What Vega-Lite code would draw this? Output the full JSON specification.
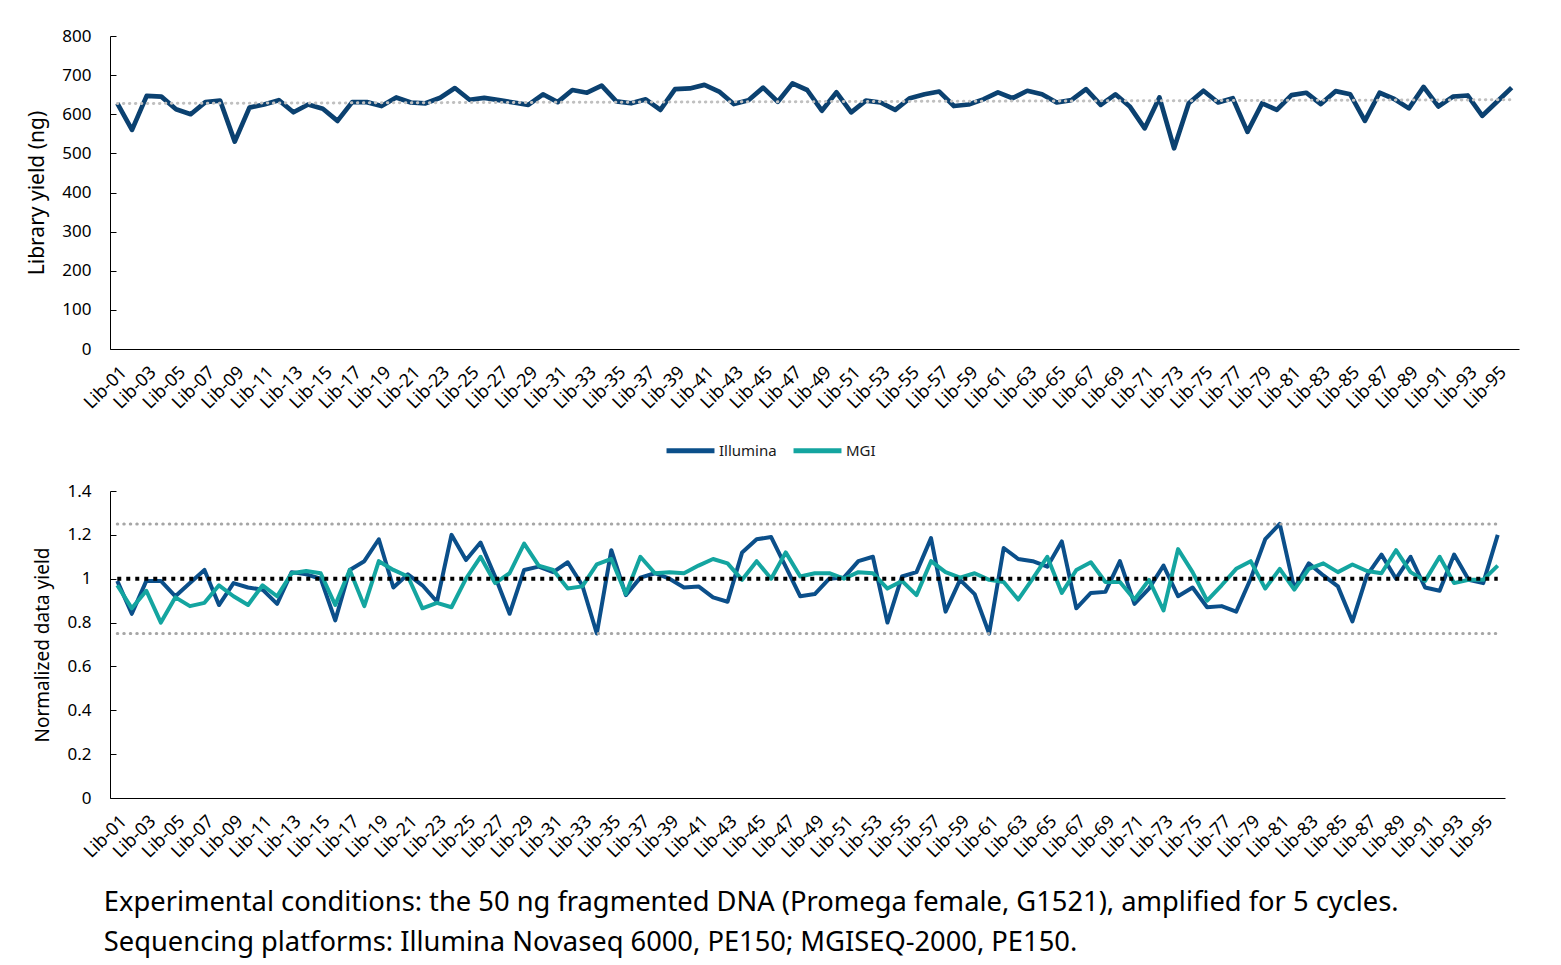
{
  "$schema": "https://vega.github.io/schema/vega-lite/v6.json",
  "padding": {"left": 26, "top": 27, "right": 20, "bottom": 5},
  "config": {
    "view": {"stroke": null},
    "font": "Noto Sans",
    "axis": {"domainColor": "#000", "tickColor": "#000", "labelColor": "#000", "titleColor": "#000", "grid": false, "titleFontWeight": "normal"}
  },
  "title": {
    "text": ["Experimental conditions: the 50 ng fragmented DNA (Promega female, G1521), amplified for 5 cycles.", "Sequencing platforms: Illumina Novaseq 6000, PE150; MGISEQ-2000, PE150."],
    "orient": "bottom", "anchor": "start", "fontSize": 27.3, "fontWeight": "normal", "color": "#000", "lineHeight": 40, "offset": 28, "dx": 77
  },
  "spacing": 69,
  "datasets": {
    "top": [
      {"lib":"Lib-01","yield":628},{"lib":"Lib-02","yield":560},{"lib":"Lib-03","yield":647},{"lib":"Lib-04","yield":645},
      {"lib":"Lib-05","yield":613},{"lib":"Lib-06","yield":600},{"lib":"Lib-07","yield":631},{"lib":"Lib-08","yield":635},
      {"lib":"Lib-09","yield":530},{"lib":"Lib-10","yield":617},{"lib":"Lib-11","yield":625},{"lib":"Lib-12","yield":636},
      {"lib":"Lib-13","yield":605},{"lib":"Lib-14","yield":625},{"lib":"Lib-15","yield":614},{"lib":"Lib-16","yield":583},
      {"lib":"Lib-17","yield":631},{"lib":"Lib-18","yield":631},{"lib":"Lib-19","yield":621},{"lib":"Lib-20","yield":643},
      {"lib":"Lib-21","yield":630},{"lib":"Lib-22","yield":628},{"lib":"Lib-23","yield":642},{"lib":"Lib-24","yield":667},
      {"lib":"Lib-25","yield":637},{"lib":"Lib-26","yield":642},{"lib":"Lib-27","yield":636},{"lib":"Lib-28","yield":630},
      {"lib":"Lib-29","yield":624},{"lib":"Lib-30","yield":651},{"lib":"Lib-31","yield":631},{"lib":"Lib-32","yield":662},
      {"lib":"Lib-33","yield":655},{"lib":"Lib-34","yield":673},{"lib":"Lib-35","yield":633},{"lib":"Lib-36","yield":628},
      {"lib":"Lib-37","yield":638},{"lib":"Lib-38","yield":611},{"lib":"Lib-39","yield":664},{"lib":"Lib-40","yield":666},
      {"lib":"Lib-41","yield":675},{"lib":"Lib-42","yield":658},{"lib":"Lib-43","yield":626},{"lib":"Lib-44","yield":636},
      {"lib":"Lib-45","yield":668},{"lib":"Lib-46","yield":632},{"lib":"Lib-47","yield":679},{"lib":"Lib-48","yield":662},
      {"lib":"Lib-49","yield":609},{"lib":"Lib-50","yield":656},{"lib":"Lib-51","yield":605},{"lib":"Lib-52","yield":635},
      {"lib":"Lib-53","yield":630},{"lib":"Lib-54","yield":611},{"lib":"Lib-55","yield":641},{"lib":"Lib-56","yield":651},
      {"lib":"Lib-57","yield":658},{"lib":"Lib-58","yield":621},{"lib":"Lib-59","yield":625},{"lib":"Lib-60","yield":638},
      {"lib":"Lib-61","yield":656},{"lib":"Lib-62","yield":641},{"lib":"Lib-63","yield":660},{"lib":"Lib-64","yield":651},
      {"lib":"Lib-65","yield":630},{"lib":"Lib-66","yield":636},{"lib":"Lib-67","yield":664},{"lib":"Lib-68","yield":624},
      {"lib":"Lib-69","yield":651},{"lib":"Lib-70","yield":619},{"lib":"Lib-71","yield":564},{"lib":"Lib-72","yield":643},
      {"lib":"Lib-73","yield":513},{"lib":"Lib-74","yield":628},{"lib":"Lib-75","yield":660},{"lib":"Lib-76","yield":630},
      {"lib":"Lib-77","yield":641},{"lib":"Lib-78","yield":555},{"lib":"Lib-79","yield":628},{"lib":"Lib-80","yield":611},
      {"lib":"Lib-81","yield":649},{"lib":"Lib-82","yield":655},{"lib":"Lib-83","yield":626},{"lib":"Lib-84","yield":659},
      {"lib":"Lib-85","yield":651},{"lib":"Lib-86","yield":583},{"lib":"Lib-87","yield":655},{"lib":"Lib-88","yield":639},
      {"lib":"Lib-89","yield":615},{"lib":"Lib-90","yield":670},{"lib":"Lib-91","yield":620},{"lib":"Lib-92","yield":645},
      {"lib":"Lib-93","yield":648},{"lib":"Lib-94","yield":596},{"lib":"Lib-95","yield":632},{"lib":"Lib-96","yield":668}
    ],
    "trend": [{"lib":"Lib-01","lib2":"Lib-96","yield":627.5,"yield2":637}],
    "bottom": [
      {"lib":"Lib-01","Illumina":0.99,"MGI":0.97},{"lib":"Lib-02","Illumina":0.84,"MGI":0.865},{"lib":"Lib-03","Illumina":0.99,"MGI":0.945},
      {"lib":"Lib-04","Illumina":0.99,"MGI":0.80},{"lib":"Lib-05","Illumina":0.92,"MGI":0.915},{"lib":"Lib-06","Illumina":0.98,"MGI":0.875},
      {"lib":"Lib-07","Illumina":1.04,"MGI":0.89},{"lib":"Lib-08","Illumina":0.88,"MGI":0.97},{"lib":"Lib-09","Illumina":0.98,"MGI":0.92},
      {"lib":"Lib-10","Illumina":0.96,"MGI":0.88},{"lib":"Lib-11","Illumina":0.95,"MGI":0.97},{"lib":"Lib-12","Illumina":0.885,"MGI":0.92},
      {"lib":"Lib-13","Illumina":1.03,"MGI":1.025},{"lib":"Lib-14","Illumina":1.02,"MGI":1.035},{"lib":"Lib-15","Illumina":1.0,"MGI":1.025},
      {"lib":"Lib-16","Illumina":0.81,"MGI":0.88},{"lib":"Lib-17","Illumina":1.04,"MGI":1.04},{"lib":"Lib-18","Illumina":1.08,"MGI":0.875},
      {"lib":"Lib-19","Illumina":1.18,"MGI":1.08},{"lib":"Lib-20","Illumina":0.96,"MGI":1.04},{"lib":"Lib-21","Illumina":1.02,"MGI":1.01},
      {"lib":"Lib-22","Illumina":0.97,"MGI":0.865},{"lib":"Lib-23","Illumina":0.895,"MGI":0.89},{"lib":"Lib-24","Illumina":1.2,"MGI":0.87},
      {"lib":"Lib-25","Illumina":1.085,"MGI":1.0},{"lib":"Lib-26","Illumina":1.165,"MGI":1.1},{"lib":"Lib-27","Illumina":1.01,"MGI":0.98},
      {"lib":"Lib-28","Illumina":0.84,"MGI":1.025},{"lib":"Lib-29","Illumina":1.04,"MGI":1.16},{"lib":"Lib-30","Illumina":1.055,"MGI":1.06},
      {"lib":"Lib-31","Illumina":1.03,"MGI":1.04},{"lib":"Lib-32","Illumina":1.075,"MGI":0.955},{"lib":"Lib-33","Illumina":0.97,"MGI":0.965},
      {"lib":"Lib-34","Illumina":0.75,"MGI":1.065},{"lib":"Lib-35","Illumina":1.13,"MGI":1.09},{"lib":"Lib-36","Illumina":0.925,"MGI":0.93},
      {"lib":"Lib-37","Illumina":1.005,"MGI":1.1},{"lib":"Lib-38","Illumina":1.025,"MGI":1.025},{"lib":"Lib-39","Illumina":1.0,"MGI":1.03},
      {"lib":"Lib-40","Illumina":0.96,"MGI":1.025},{"lib":"Lib-41","Illumina":0.965,"MGI":1.06},{"lib":"Lib-42","Illumina":0.915,"MGI":1.09},
      {"lib":"Lib-43","Illumina":0.895,"MGI":1.07},{"lib":"Lib-44","Illumina":1.12,"MGI":0.995},{"lib":"Lib-45","Illumina":1.18,"MGI":1.08},
      {"lib":"Lib-46","Illumina":1.19,"MGI":1.0},{"lib":"Lib-47","Illumina":1.055,"MGI":1.12},{"lib":"Lib-48","Illumina":0.92,"MGI":1.01},
      {"lib":"Lib-49","Illumina":0.93,"MGI":1.025},{"lib":"Lib-50","Illumina":1.0,"MGI":1.025},{"lib":"Lib-51","Illumina":1.005,"MGI":1.0},
      {"lib":"Lib-52","Illumina":1.08,"MGI":1.03},{"lib":"Lib-53","Illumina":1.1,"MGI":1.025},{"lib":"Lib-54","Illumina":0.8,"MGI":0.955},
      {"lib":"Lib-55","Illumina":1.01,"MGI":0.99},{"lib":"Lib-56","Illumina":1.03,"MGI":0.925},{"lib":"Lib-57","Illumina":1.185,"MGI":1.08},
      {"lib":"Lib-58","Illumina":0.85,"MGI":1.03},{"lib":"Lib-59","Illumina":0.995,"MGI":1.005},{"lib":"Lib-60","Illumina":0.93,"MGI":1.025},
      {"lib":"Lib-61","Illumina":0.75,"MGI":0.995},{"lib":"Lib-62","Illumina":1.14,"MGI":0.985},{"lib":"Lib-63","Illumina":1.09,"MGI":0.905},
      {"lib":"Lib-64","Illumina":1.08,"MGI":1.0},{"lib":"Lib-65","Illumina":1.055,"MGI":1.1},{"lib":"Lib-66","Illumina":1.17,"MGI":0.935},
      {"lib":"Lib-67","Illumina":0.865,"MGI":1.04},{"lib":"Lib-68","Illumina":0.935,"MGI":1.075},{"lib":"Lib-69","Illumina":0.94,"MGI":0.985},
      {"lib":"Lib-70","Illumina":1.08,"MGI":0.985},{"lib":"Lib-71","Illumina":0.885,"MGI":0.905},{"lib":"Lib-72","Illumina":0.955,"MGI":0.995},
      {"lib":"Lib-73","Illumina":1.06,"MGI":0.855},{"lib":"Lib-74","Illumina":0.92,"MGI":1.135},{"lib":"Lib-75","Illumina":0.96,"MGI":1.03},
      {"lib":"Lib-76","Illumina":0.87,"MGI":0.9},{"lib":"Lib-77","Illumina":0.875,"MGI":0.97},{"lib":"Lib-78","Illumina":0.85,"MGI":1.045},
      {"lib":"Lib-79","Illumina":1.0,"MGI":1.08},{"lib":"Lib-80","Illumina":1.18,"MGI":0.955},{"lib":"Lib-81","Illumina":1.25,"MGI":1.045},
      {"lib":"Lib-82","Illumina":0.955,"MGI":0.95},{"lib":"Lib-83","Illumina":1.07,"MGI":1.045},{"lib":"Lib-84","Illumina":1.015,"MGI":1.07},
      {"lib":"Lib-85","Illumina":0.965,"MGI":1.03},{"lib":"Lib-86","Illumina":0.805,"MGI":1.065},{"lib":"Lib-87","Illumina":1.015,"MGI":1.035},
      {"lib":"Lib-88","Illumina":1.11,"MGI":1.025},{"lib":"Lib-89","Illumina":1.0,"MGI":1.13},{"lib":"Lib-90","Illumina":1.1,"MGI":1.03},
      {"lib":"Lib-91","Illumina":0.96,"MGI":0.99},{"lib":"Lib-92","Illumina":0.945,"MGI":1.1},{"lib":"Lib-93","Illumina":1.11,"MGI":0.98},
      {"lib":"Lib-94","Illumina":0.995,"MGI":0.995},{"lib":"Lib-95","Illumina":0.98,"MGI":0.995},{"lib":"Lib-96","Illumina":1.2,"MGI":1.06}
    ],
    "limits": [{"lib":"Lib-01","lib2":"Lib-96","value":1.25},{"lib":"Lib-01","lib2":"Lib-96","value":0.75}],
    "center": [{"lib":"Lib-01","lib2":"Lib-96","value":1.0}]
  },
  "vconcat": [
    {
      "width": 1409,
      "height": 313,
      "encoding": {
        "x": {"field": "lib", "type": "nominal", "sort": null, "scale": {"type": "point", "padding": 0.5},
          "axis": {"title": null, "labelAngle": -45, "labelAlign": "right", "labelBaseline": "top", "labelFontSize": 18, "ticks": false, "labelPadding": 14,
            "values": ["Lib-01","Lib-03","Lib-05","Lib-07","Lib-09","Lib-11","Lib-13","Lib-15","Lib-17","Lib-19","Lib-21","Lib-23","Lib-25","Lib-27","Lib-29","Lib-31","Lib-33","Lib-35","Lib-37","Lib-39","Lib-41","Lib-43","Lib-45","Lib-47","Lib-49","Lib-51","Lib-53","Lib-55","Lib-57","Lib-59","Lib-61","Lib-63","Lib-65","Lib-67","Lib-69","Lib-71","Lib-73","Lib-75","Lib-77","Lib-79","Lib-81","Lib-83","Lib-85","Lib-87","Lib-89","Lib-91","Lib-93","Lib-95"]}},
        "y": {"field": "yield", "type": "quantitative", "scale": {"domain": [0, 800]},
          "axis": {"title": "Library yield (ng)", "values": [0,100,200,300,400,500,600,700,800], "labelOverlap": false, "tickSize": -6, "labelFontSize": 17, "titleFontSize": 21, "labelPadding": 25, "titlePadding": 14}}
      },
      "layer": [
        {
          "data": {"name": "top"},
          "mark": {"type": "line", "color": "#0b4170", "strokeWidth": 4.7, "strokeJoin": "round"}
        },
        {
          "data": {"name": "trend"},
          "mark": {"type": "rule", "color": "#c0c0c0", "strokeWidth": 3, "strokeDash": [0.5, 5.5], "strokeCap": "round"},
          "encoding": {
            "x2": {"field": "lib2"},
            "y2": {"field": "yield2"}
          }
        }
      ]
    },
    {
      "width": 1395,
      "height": 307,
      "encoding": {
        "x": {"field": "lib", "type": "nominal", "sort": null, "scale": {"type": "point", "padding": 0.5},
          "axis": {"title": null, "labelAngle": -45, "labelAlign": "right", "labelBaseline": "top", "labelFontSize": 18, "ticks": false, "labelPadding": 14,
            "values": ["Lib-01","Lib-03","Lib-05","Lib-07","Lib-09","Lib-11","Lib-13","Lib-15","Lib-17","Lib-19","Lib-21","Lib-23","Lib-25","Lib-27","Lib-29","Lib-31","Lib-33","Lib-35","Lib-37","Lib-39","Lib-41","Lib-43","Lib-45","Lib-47","Lib-49","Lib-51","Lib-53","Lib-55","Lib-57","Lib-59","Lib-61","Lib-63","Lib-65","Lib-67","Lib-69","Lib-71","Lib-73","Lib-75","Lib-77","Lib-79","Lib-81","Lib-83","Lib-85","Lib-87","Lib-89","Lib-91","Lib-93","Lib-95"]}},
        "y": {"field": "value", "type": "quantitative", "scale": {"domain": [0, 1.4]},
          "axis": {"title": "Normalized data yield", "values": [0,0.2,0.4,0.6,0.8,1,1.2,1.4], "labelOverlap": false, "format": "~g", "tickSize": -6, "labelFontSize": 17, "titleFontSize": 19, "labelPadding": 25, "titlePadding": 14}}
      },
      "layer": [
        {
          "data": {"name": "bottom"},
          "transform": [{"fold": ["Illumina", "MGI"], "as": ["platform", "value"]}],
          "mark": {"type": "line", "strokeWidth": 4, "strokeJoin": "round"},
          "encoding": {
            "color": {"field": "platform", "type": "nominal", "scale": {"domain": ["Illumina", "MGI"], "range": ["#0b4f8a", "#14a5a0"]},
              "legend": {"title": null, "orient": "none", "legendX": 554, "legendY": 388, "direction": "horizontal", "symbolType": "stroke", "symbolStrokeWidth": 5, "symbolSize": 2300, "labelFontSize": 15, "labelColor": "#1a1a1a", "columnPadding": 6, "labelOffset": 2}}
          }
        },
        {
          "data": {"name": "limits"},
          "mark": {"type": "rule", "color": "#a6a6a6", "strokeWidth": 3, "strokeDash": [0.5, 6], "strokeCap": "round"},
          "encoding": {
            "x2": {"field": "lib2"}
          }
        },
        {
          "data": {"name": "center"},
          "mark": {"type": "rule", "color": "#000000", "strokeWidth": 4, "strokeDash": [4, 5]},
          "encoding": {
            "x2": {"field": "lib2"}
          }
        }
      ]
    }
  ]
}
